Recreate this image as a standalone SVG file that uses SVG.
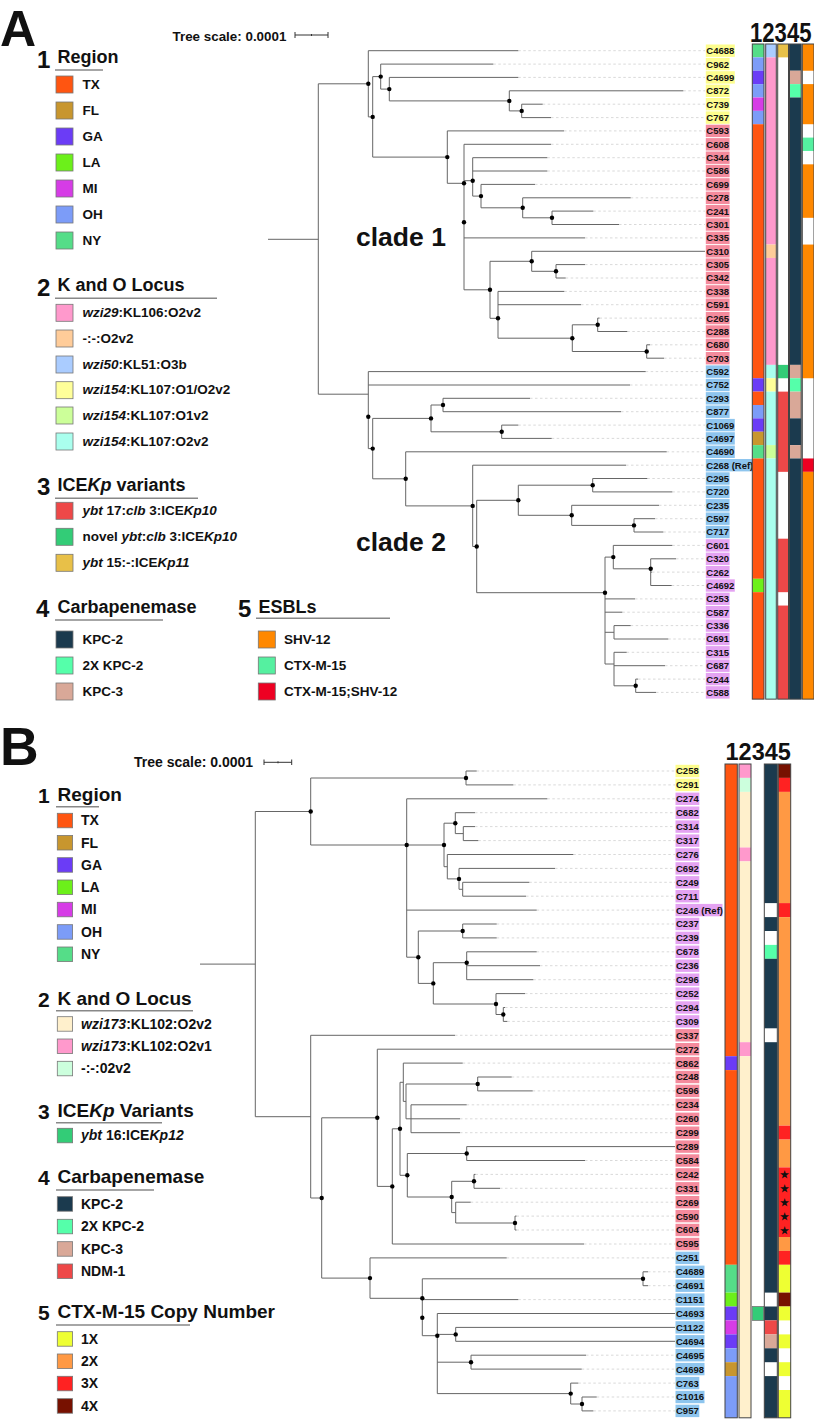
<svg xmlns="http://www.w3.org/2000/svg" width="814" height="1419" viewBox="0 0 814 1419">
<style>
text{font-family:"Liberation Sans",Arial,sans-serif;font-weight:bold;fill:#111}
.t{stroke:#666;stroke-width:1;fill:none}
.ld{stroke:#cfcfcf;stroke-width:0.8;stroke-dasharray:2.5 2.5;fill:none}
.dt{fill:#000}
.lb{font-size:9.5px}
.it{font-style:italic}
.ul{stroke:#888;stroke-width:1.5}
.sq{stroke:#777;stroke-width:0.8}
.co{fill:none;stroke:#444;stroke-width:1}
.TX{fill:#ff5511}.FL{fill:#c8962e}.GA{fill:#6b3cf6}.LA{fill:#6cf01a}.MI{fill:#d63ce6}.OH{fill:#7c9cf8}.NY{fill:#55dd88}
.K29{fill:#ff99cc}.Kpe{fill:#ffcc99}.K50{fill:#aaccff}.K154a{fill:#ffff99}.K154b{fill:#ccff99}.K154c{fill:#aaffee}
.Ired{fill:#ee4848}.Igr{fill:#33cc77}.Igo{fill:#e8c048}
.KP2{fill:#1b3a4e}.KP2x{fill:#55ffaa}.KP3{fill:#d9a898}.NDM{fill:#ee4848}
.SHV{fill:#ff8800}.CTX{fill:#55f0a0}.CS{fill:#ee0022}
.Bcr{fill:#fff0cc}.Bpk{fill:#ff99cc}.Bmt{fill:#ccffdd}
.X1{fill:#eeff33}.X2{fill:#ff9944}.X3{fill:#ff2222}.X4{fill:#771100}
.ly{fill:#fdfd8e}.lp{fill:#f48b9d}.lbb{fill:#8ec5ee}.lv{fill:#e4a3f2}
</style>

<!-- Panel A titles -->
<g id="panelA-title">
<text x="0" y="45.5" font-size="50">A</text>
<text x="172.5" y="40.5" font-size="13.4">Tree scale: 0.0001</text>
<path d="M295 35H328M295 32V38M328 32V38M311.5 34V36" stroke="#333" stroke-width="1" fill="none"/>
<text transform="translate(750 42) scale(0.79 1)" x="0" y="0" font-size="28">12345</text>
<text x="356" y="246" font-size="26.5">clade 1</text>
<text x="356" y="551" font-size="26.5">clade 2</text>
</g>

<!-- Legend A -->
<g id="legendA-region">
<text x="37" y="68.3" font-size="24">1</text>
<text x="57.5" y="63.3" font-size="18">Region</text>
<line class="ul" x1="55" y1="70" x2="103" y2="70"/>
<rect class="sq TX" x="56" y="76" width="17" height="17"/><text x="82.5" y="88.5" font-size="13.5">TX</text>
<rect class="sq FL" x="56" y="102" width="17" height="17"/><text x="82.5" y="114.5" font-size="13.5">FL</text>
<rect class="sq GA" x="56" y="128" width="17" height="17"/><text x="82.5" y="140.5" font-size="13.5">GA</text>
<rect class="sq LA" x="56" y="154" width="17" height="17"/><text x="82.5" y="166.5" font-size="13.5">LA</text>
<rect class="sq MI" x="56" y="180" width="17" height="17"/><text x="82.5" y="192.5" font-size="13.5">MI</text>
<rect class="sq OH" x="56" y="206" width="17" height="17"/><text x="82.5" y="218.5" font-size="13.5">OH</text>
<rect class="sq NY" x="56" y="232" width="17" height="17"/><text x="82.5" y="244.5" font-size="13.5">NY</text>
</g>
<g id="legendA-ko">
<text x="37" y="295.5" font-size="24">2</text>
<text x="57.5" y="290.7" font-size="18">K and O Locus</text>
<line class="ul" x1="55" y1="298.3" x2="217" y2="298.3"/>
<rect class="sq K29" x="56" y="304.3" width="17" height="17"/><text x="82.5" y="316.8" font-size="13.5"><tspan class="it">wzi29</tspan>:KL106:O2v2</text>
<rect class="sq Kpe" x="56" y="330" width="17" height="17"/><text x="82.5" y="342.5" font-size="13.5">-:-:O2v2</text>
<rect class="sq K50" x="56" y="356" width="17" height="17"/><text x="82.5" y="368.5" font-size="13.5"><tspan class="it">wzi50</tspan>:KL51:O3b</text>
<rect class="sq K154a" x="56" y="381.7" width="17" height="17"/><text x="82.5" y="394.2" font-size="13.5"><tspan class="it">wzi154</tspan>:KL107:O1/O2v2</text>
<rect class="sq K154b" x="56" y="407" width="17" height="17"/><text x="82.5" y="419.5" font-size="13.5"><tspan class="it">wzi154</tspan>:KL107:O1v2</text>
<rect class="sq K154c" x="56" y="433" width="17" height="17"/><text x="82.5" y="445.5" font-size="13.5"><tspan class="it">wzi154</tspan>:KL107:O2v2</text>
</g>
<g id="legendA-ice">
<text x="37" y="495.3" font-size="24">3</text>
<text x="57.5" y="490.7" font-size="18">ICE<tspan class="it">Kp</tspan> variants</text>
<line class="ul" x1="55" y1="498.3" x2="198" y2="498.3"/>
<rect class="sq Ired" x="56" y="502.3" width="17" height="17"/><text x="82.5" y="514.8" font-size="13.5"><tspan class="it">ybt</tspan> 17:<tspan class="it">clb</tspan> 3:ICE<tspan class="it">Kp10</tspan></text>
<rect class="sq Igr" x="56" y="528.3" width="17" height="17"/><text x="82.5" y="540.8" font-size="13.5">novel <tspan class="it">ybt</tspan>:<tspan class="it">clb</tspan> 3:ICE<tspan class="it">Kp10</tspan></text>
<rect class="sq Igo" x="56" y="554.3" width="17" height="17"/><text x="82.5" y="566.8" font-size="13.5"><tspan class="it">ybt</tspan> 15:-:ICE<tspan class="it">Kp11</tspan></text>
</g>
<g id="legendA-carb">
<text x="36" y="617" font-size="24">4</text>
<text x="57.5" y="612.7" font-size="18">Carbapenemase</text>
<line class="ul" x1="55" y1="620" x2="163" y2="620"/>
<rect class="sq KP2" x="56" y="631" width="17" height="17"/><text x="82.5" y="643.5" font-size="13.5">KPC-2</text>
<rect class="sq KP2x" x="56" y="657" width="17" height="17"/><text x="82.5" y="669.5" font-size="13.5">2X KPC-2</text>
<rect class="sq KP3" x="56" y="683" width="17" height="17"/><text x="82.5" y="695.5" font-size="13.5">KPC-3</text>
</g>
<g id="legendA-esbl">
<text x="238" y="617" font-size="24">5</text>
<text x="258.5" y="612.7" font-size="18">ESBLs</text>
<line class="ul" x1="256" y1="618.3" x2="390" y2="618.3"/>
<rect class="sq SHV" x="258.3" y="631" width="17" height="17"/><text x="284" y="643.5" font-size="13.5">SHV-12</text>
<rect class="sq CTX" x="258.3" y="657" width="17" height="17"/><text x="284" y="669.5" font-size="13.5">CTX-M-15</text>
<rect class="sq CS" x="258.3" y="683" width="17" height="17"/><text x="284" y="695.5" font-size="13.5">CTX-M-15;SHV-12</text>
</g>

<!-- Tree A connectors -->
<g id="treeA-connectors">
<path class="ld" d="M518.3 50.7H705M493.3 64.1H705M518.3 77.4H705M683.3 90.8H705M542.7 104.2H705M551 117.6H705M564 130.9H705M551 144.3H705M547.3 157.7H705M547.3 171H705M535 184.4H705M630.7 197.8H705M593.3 211.1H705M619 224.5H705M585 237.9H705M585 264.6H705M565.7 278H705M564.3 291.4H705M581 304.7H705M599.5 318.1H705M627.3 331.5H705M650 344.8H705M664 358.2H705M645.7 371.6H705M630 385H705M530 398.3H705M621 411.7H705M518.3 425.1H705M551.7 438.4H705M666.7 451.8H705M626 465.2H705M647.3 478.5H705M672.3 491.9H705M659 505.3H705M655 518.7H705M663.3 532H705M672.3 545.4H705M676 558.8H705M652 572.1H705M671.7 585.5H705M635 598.9H705M622.3 612.2H705M630.7 625.6H705M668.3 639H705M626.7 652.3H705M665 665.7H705M638 679.1H705M656 692.4H705"/>
<path class="t" d="M268 239.3H318.3M318.3 83.8V394.2M318.3 83.8H368.3M318.3 394.2H368.3
M368.3 50.7V116.9M368.3 50.7H518.3M368.3 116.9H372.7
M372.7 76.6V157.1M372.7 76.6H380.7M372.7 157.1H447.3
M380.7 64.1V89.1M380.7 64.1H493.3M380.7 89.1H389.3
M389.3 77.4V100.9M389.3 77.4H518.3M389.3 100.9H509.3
M509.3 90.8V110.9M509.3 90.8H683.3M509.3 110.9H521.7
M521.7 104.2V117.6M521.7 104.2H542.7M521.7 117.6H551
M447.3 130.9V183.3M447.3 130.9H564M447.3 183.3H464
M464 144.3V289.8M464 144.3H551M464 180.7H472.7M464 237.9H585M464 289.8H490
M472.7 157.7V196.1M472.7 157.7H547.3M472.7 171H547.3M472.7 196.1H481
M481 184.4V207.8M481 184.4H535M481 207.8H522.7
M522.7 197.8V217.8M522.7 197.8H630.7M522.7 217.8H552
M552 211.1V224.5M552 211.1H593.3M552 224.5H619
M490 261.3V318.3M490 261.3H531.7M490 318.3H498
M531.7 251.3V271.3M531.7 251.3H705M531.7 271.3H556
M556 264.6V278M556 264.6H585M556 278H565.7
M498 291.4V338.2M498 291.4H564.3M498 304.7H581M498 338.2H572.3
M572.3 324.8V351.5M572.3 324.8H597.7M572.3 351.5H646.7
M597.7 318.1V331.5M597.7 318.1H599.5M597.7 331.5H627.3
M646.7 344.8V358.2M646.7 344.8H650M646.7 358.2H664
M368.3 371.6V448.6M368.3 371.6H645.7M368.3 385H630M368.3 448.6H372.7
M372.7 418.4V478.8M372.7 418.4H431M372.7 478.8H405.7
M431 405V431.8M431 405H443M431 431.8H501.7
M443 398.3V411.7M443 398.3H530M443 411.7H621
M501.7 425.1V438.4M501.7 425.1H518.3M501.7 438.4H551.7
M405.7 451.8V505.9M405.7 451.8H666.7M405.7 505.9H472.7
M472.7 465.2V546.5M472.7 465.2H626M472.7 546.5H476.7
M476.7 500.3V592.7M476.7 500.3H518.3M476.7 592.7H605
M518.3 485.2V515.3M518.3 485.2H592.7M518.3 515.3H571.7
M592.7 478.5V491.9M592.7 478.5H647.3M592.7 491.9H672.3
M571.7 505.3V525.4M571.7 505.3H659M571.7 525.4H634
M634 518.7V532M634 518.7H655M634 532H663.3
M605 557.1V664M605 557.1H613.3M605 598.9H635M605 612.2H622.3M605 632.3H614M605 664H614
M613.3 545.4V568.8M613.3 545.4H672.3M613.3 568.8H650.7
M650.7 558.8V585.5M650.7 558.8H676M650.7 572.1H652M650.7 585.5H671.7
M614 625.6V639M614 625.6H630.7M614 639H668.3
M614 652.3V685.8M614 652.3H626.7M614 665.7H665M614 685.8H635.7
M635.7 679.1V692.4M635.7 679.1H638M635.7 692.4H656"/>
<g class="dt">
<circle cx="368.3" cy="83.8" r="2.2"/><circle cx="372.7" cy="116.9" r="2.2"/><circle cx="380.7" cy="76.6" r="2.2"/><circle cx="389.3" cy="89.1" r="2.2"/><circle cx="509.3" cy="100.9" r="2.2"/><circle cx="521.7" cy="110.9" r="2.2"/><circle cx="447.3" cy="157.1" r="2.2"/><circle cx="464" cy="183.3" r="2.2"/><circle cx="464" cy="222.3" r="2.2"/><circle cx="472.7" cy="180.7" r="2.2"/><circle cx="481" cy="196.1" r="2.2"/><circle cx="522.7" cy="207.8" r="2.2"/><circle cx="552" cy="217.8" r="2.2"/><circle cx="490" cy="289.8" r="2.2"/><circle cx="531.7" cy="261.3" r="2.2"/><circle cx="556" cy="271.3" r="2.2"/><circle cx="498" cy="318.3" r="2.2"/><circle cx="572.3" cy="338.2" r="2.2"/><circle cx="597.7" cy="324.8" r="2.2"/><circle cx="646.7" cy="351.5" r="2.2"/>
<circle cx="368.3" cy="416.8" r="2.2"/><circle cx="372.7" cy="448.6" r="2.2"/><circle cx="431" cy="418.4" r="2.2"/><circle cx="443" cy="405" r="2.2"/><circle cx="501.7" cy="431.8" r="2.2"/><circle cx="405.7" cy="478.8" r="2.2"/><circle cx="472.7" cy="505.9" r="2.2"/><circle cx="476.7" cy="546.5" r="2.2"/><circle cx="518.3" cy="500.3" r="2.2"/><circle cx="592.7" cy="485.2" r="2.2"/><circle cx="571.7" cy="515.3" r="2.2"/><circle cx="634" cy="525.4" r="2.2"/><circle cx="605" cy="592.7" r="2.2"/><circle cx="613.3" cy="557.1" r="2.2"/><circle cx="650.7" cy="568.8" r="2.2"/><circle cx="635.7" cy="685.8" r="2.2"/>
</g>
</g>

<!-- Leaf labels A -->
<g id="labelsA">
<rect class="ly" x="705.8" y="44.5" width="29" height="12.4"/><text class="lb" x="706.3" y="54.1">C4688</text>
<rect class="ly" x="705.8" y="57.9" width="23.8" height="12.4"/><text class="lb" x="706.3" y="67.5">C962</text>
<rect class="ly" x="705.8" y="71.2" width="29" height="12.4"/><text class="lb" x="706.3" y="80.8">C4699</text>
<rect class="ly" x="705.8" y="84.6" width="23.8" height="12.4"/><text class="lb" x="706.3" y="94.2">C872</text>
<rect class="ly" x="705.8" y="98" width="23.8" height="12.4"/><text class="lb" x="706.3" y="107.6">C739</text>
<rect class="ly" x="705.8" y="111.4" width="23.8" height="12.4"/><text class="lb" x="706.3" y="121">C767</text>
<rect class="lp" x="705.8" y="124.7" width="23.8" height="12.4"/><text class="lb" x="706.3" y="134.3">C593</text>
<rect class="lp" x="705.8" y="138.1" width="23.8" height="12.4"/><text class="lb" x="706.3" y="147.7">C608</text>
<rect class="lp" x="705.8" y="151.5" width="23.8" height="12.4"/><text class="lb" x="706.3" y="161.1">C344</text>
<rect class="lp" x="705.8" y="164.8" width="23.8" height="12.4"/><text class="lb" x="706.3" y="174.4">C586</text>
<rect class="lp" x="705.8" y="178.2" width="23.8" height="12.4"/><text class="lb" x="706.3" y="187.8">C699</text>
<rect class="lp" x="705.8" y="191.6" width="23.8" height="12.4"/><text class="lb" x="706.3" y="201.2">C278</text>
<rect class="lp" x="705.8" y="204.9" width="23.8" height="12.4"/><text class="lb" x="706.3" y="214.5">C241</text>
<rect class="lp" x="705.8" y="218.3" width="23.8" height="12.4"/><text class="lb" x="706.3" y="227.9">C301</text>
<rect class="lp" x="705.8" y="231.7" width="23.8" height="12.4"/><text class="lb" x="706.3" y="241.3">C335</text>
<rect class="lp" x="705.8" y="245.1" width="23.8" height="12.4"/><text class="lb" x="706.3" y="254.7">C310</text>
<rect class="lp" x="705.8" y="258.4" width="23.8" height="12.4"/><text class="lb" x="706.3" y="268">C305</text>
<rect class="lp" x="705.8" y="271.8" width="23.8" height="12.4"/><text class="lb" x="706.3" y="281.4">C342</text>
<rect class="lp" x="705.8" y="285.2" width="23.8" height="12.4"/><text class="lb" x="706.3" y="294.8">C338</text>
<rect class="lp" x="705.8" y="298.5" width="23.8" height="12.4"/><text class="lb" x="706.3" y="308.1">C591</text>
<rect class="lp" x="705.8" y="311.9" width="23.8" height="12.4"/><text class="lb" x="706.3" y="321.5">C265</text>
<rect class="lp" x="705.8" y="325.3" width="23.8" height="12.4"/><text class="lb" x="706.3" y="334.9">C288</text>
<rect class="lp" x="705.8" y="338.6" width="23.8" height="12.4"/><text class="lb" x="706.3" y="348.2">C680</text>
<rect class="lp" x="705.8" y="352" width="23.8" height="12.4"/><text class="lb" x="706.3" y="361.6">C703</text>
<rect class="lbb" x="705.8" y="365.4" width="23.8" height="12.4"/><text class="lb" x="706.3" y="375">C592</text>
<rect class="lbb" x="705.8" y="378.8" width="23.8" height="12.4"/><text class="lb" x="706.3" y="388.4">C752</text>
<rect class="lbb" x="705.8" y="392.1" width="23.8" height="12.4"/><text class="lb" x="706.3" y="401.7">C293</text>
<rect class="lbb" x="705.8" y="405.5" width="23.8" height="12.4"/><text class="lb" x="706.3" y="415.1">C877</text>
<rect class="lbb" x="705.8" y="418.9" width="29" height="12.4"/><text class="lb" x="706.3" y="428.5">C1069</text>
<rect class="lbb" x="705.8" y="432.2" width="29" height="12.4"/><text class="lb" x="706.3" y="441.8">C4697</text>
<rect class="lbb" x="705.8" y="445.6" width="29" height="12.4"/><text class="lb" x="706.3" y="455.2">C4690</text>
<rect class="lbb" x="705.8" y="459" width="47" height="12.4"/><text class="lb" x="706.3" y="468.6">C268 (Ref)</text>
<rect class="lbb" x="705.8" y="472.3" width="23.8" height="12.4"/><text class="lb" x="706.3" y="481.9">C295</text>
<rect class="lbb" x="705.8" y="485.7" width="23.8" height="12.4"/><text class="lb" x="706.3" y="495.3">C720</text>
<rect class="lbb" x="705.8" y="499.1" width="23.8" height="12.4"/><text class="lb" x="706.3" y="508.7">C235</text>
<rect class="lbb" x="705.8" y="512.5" width="23.8" height="12.4"/><text class="lb" x="706.3" y="522.1">C597</text>
<rect class="lbb" x="705.8" y="525.8" width="23.8" height="12.4"/><text class="lb" x="706.3" y="535.4">C717</text>
<rect class="lv" x="705.8" y="539.2" width="23.8" height="12.4"/><text class="lb" x="706.3" y="548.8">C601</text>
<rect class="lv" x="705.8" y="552.6" width="23.8" height="12.4"/><text class="lb" x="706.3" y="562.2">C320</text>
<rect class="lv" x="705.8" y="565.9" width="23.8" height="12.4"/><text class="lb" x="706.3" y="575.5">C262</text>
<rect class="lv" x="705.8" y="579.3" width="29" height="12.4"/><text class="lb" x="706.3" y="588.9">C4692</text>
<rect class="lv" x="705.8" y="592.7" width="23.8" height="12.4"/><text class="lb" x="706.3" y="602.3">C253</text>
<rect class="lv" x="705.8" y="606" width="23.8" height="12.4"/><text class="lb" x="706.3" y="615.6">C587</text>
<rect class="lv" x="705.8" y="619.4" width="23.8" height="12.4"/><text class="lb" x="706.3" y="629">C336</text>
<rect class="lv" x="705.8" y="632.8" width="23.8" height="12.4"/><text class="lb" x="706.3" y="642.4">C691</text>
<rect class="lv" x="705.8" y="646.1" width="23.8" height="12.4"/><text class="lb" x="706.3" y="655.7">C315</text>
<rect class="lv" x="705.8" y="659.5" width="23.8" height="12.4"/><text class="lb" x="706.3" y="669.1">C687</text>
<rect class="lv" x="705.8" y="672.9" width="23.8" height="12.4"/><text class="lb" x="706.3" y="682.5">C244</text>
<rect class="lv" x="705.8" y="686.2" width="23.8" height="12.4"/><text class="lb" x="706.3" y="695.8">C588</text>
</g>

<!-- Data columns A -->
<g id="stripsA">
<rect class="NY" x="752.3" y="44" width="11.7" height="13.37"/>
<rect class="OH" x="752.3" y="57.37" width="11.7" height="13.37"/>
<rect class="GA" x="752.3" y="70.74" width="11.7" height="13.37"/>
<rect class="OH" x="752.3" y="84.11" width="11.7" height="13.37"/>
<rect class="MI" x="752.3" y="97.48" width="11.7" height="13.37"/>
<rect class="OH" x="752.3" y="110.85" width="11.7" height="13.37"/>
<rect class="TX" x="752.3" y="124.22" width="11.7" height="254.03"/>
<rect class="GA" x="752.3" y="378.25" width="11.7" height="13.37"/>
<rect class="TX" x="752.3" y="391.62" width="11.7" height="13.37"/>
<rect class="OH" x="752.3" y="404.99" width="11.7" height="13.37"/>
<rect class="GA" x="752.3" y="418.36" width="11.7" height="13.37"/>
<rect class="FL" x="752.3" y="431.73" width="11.7" height="13.37"/>
<rect class="NY" x="752.3" y="445.1" width="11.7" height="13.37"/>
<rect class="TX" x="752.3" y="458.47" width="11.7" height="120.33"/>
<rect class="LA" x="752.3" y="578.8" width="11.7" height="13.37"/>
<rect class="TX" x="752.3" y="592.17" width="11.7" height="106.96"/>
<rect class="co" x="752.3" y="44" width="11.7" height="655.13"/>

<rect class="K50" x="765.7" y="44" width="10.6" height="13.37"/>
<rect class="K29" x="765.7" y="57.37" width="10.6" height="187.18"/>
<rect class="Kpe" x="765.7" y="244.55" width="10.6" height="13.37"/>
<rect class="K29" x="765.7" y="257.92" width="10.6" height="106.96"/>
<rect class="K154c" x="765.7" y="364.88" width="10.6" height="13.37"/>
<rect class="K154a" x="765.7" y="378.25" width="10.6" height="13.37"/>
<rect class="K154c" x="765.7" y="391.62" width="10.6" height="53.48"/>
<rect class="K154b" x="765.7" y="445.1" width="10.6" height="13.37"/>
<rect class="K154c" x="765.7" y="458.47" width="10.6" height="240.66"/>
<rect class="co" x="765.7" y="44" width="10.6" height="655.13"/>

<rect x="777.7" y="44" width="10.8" height="655.13" fill="#fff"/>
<rect class="Igo" x="777.7" y="44" width="10.8" height="13.37"/>
<rect class="Igr" x="777.7" y="364.88" width="10.8" height="13.37"/>
<rect class="Ired" x="777.7" y="391.62" width="10.8" height="80.22"/>
<rect class="Ired" x="777.7" y="538.69" width="10.8" height="53.48"/>
<rect class="Ired" x="777.7" y="605.54" width="10.8" height="93.59"/>
<rect class="co" x="777.7" y="44" width="10.8" height="655.13"/>

<rect class="KP2" x="789.5" y="44" width="11.7" height="26.74"/>
<rect class="KP3" x="789.5" y="70.74" width="11.7" height="13.37"/>
<rect class="KP2x" x="789.5" y="84.11" width="11.7" height="13.37"/>
<rect class="KP2" x="789.5" y="97.48" width="11.7" height="267.4"/>
<rect class="KP3" x="789.5" y="364.88" width="11.7" height="13.37"/>
<rect class="KP2x" x="789.5" y="378.25" width="11.7" height="13.37"/>
<rect class="KP3" x="789.5" y="391.62" width="11.7" height="26.74"/>
<rect class="KP2" x="789.5" y="418.36" width="11.7" height="26.74"/>
<rect class="KP3" x="789.5" y="445.1" width="11.7" height="13.37"/>
<rect class="KP2" x="789.5" y="458.47" width="11.7" height="240.66"/>
<rect class="co" x="789.5" y="44" width="11.7" height="655.13"/>

<rect x="802.3" y="44" width="11.7" height="655.13" fill="#fff"/>
<rect class="SHV" x="802.3" y="44" width="11.7" height="26.74"/>
<rect class="SHV" x="802.3" y="84.11" width="11.7" height="40.11"/>
<rect class="CTX" x="802.3" y="137.59" width="11.7" height="13.37"/>
<rect class="SHV" x="802.3" y="164.33" width="11.7" height="53.48"/>
<rect class="SHV" x="802.3" y="244.55" width="11.7" height="133.7"/>
<rect class="CS" x="802.3" y="458.47" width="11.7" height="13.37"/>
<rect class="SHV" x="802.3" y="471.84" width="11.7" height="227.29"/>
<rect class="co" x="802.3" y="44" width="11.7" height="655.13"/>
</g>

<!-- Panel B titles -->
<g id="panelB-title">
<text x="0" y="765" font-size="53.5">B</text>
<text x="134" y="766.7" font-size="14">Tree scale: 0.0001</text>
<path d="M264 762.3H291.7M264 759.5V765M291.7 759.5V765M278 761.3V763.3" stroke="#333" stroke-width="1" fill="none"/>
<text x="725.5" y="760" font-size="23.5">12345</text>
</g>

<!-- Legend B -->
<g id="legendB-region">
<text x="38" y="802.5" font-size="21">1</text>
<text x="57.5" y="800.5" font-size="19">Region</text>
<line class="ul" x1="56" y1="806.7" x2="99" y2="806.7"/>
<rect class="sq TX" x="57.3" y="813.3" width="15.3" height="14.5"/><text x="81" y="825.3" font-size="14">TX</text>
<rect class="sq FL" x="57.3" y="835.5" width="15.3" height="14.5"/><text x="81" y="847.5" font-size="14">FL</text>
<rect class="sq GA" x="57.3" y="857.7" width="15.3" height="14.5"/><text x="81" y="869.7" font-size="14">GA</text>
<rect class="sq LA" x="57.3" y="880" width="15.3" height="14.5"/><text x="81" y="892" font-size="14">LA</text>
<rect class="sq MI" x="57.3" y="902.3" width="15.3" height="14.5"/><text x="81" y="914.3" font-size="14">MI</text>
<rect class="sq OH" x="57.3" y="924.7" width="15.3" height="14.5"/><text x="81" y="936.7" font-size="14">OH</text>
<rect class="sq NY" x="57.3" y="947" width="15.3" height="14.5"/><text x="81" y="959" font-size="14">NY</text>
</g>
<g id="legendB-ko">
<text x="38" y="1007" font-size="21">2</text>
<text x="57.5" y="1005" font-size="19">K and O Locus</text>
<line class="ul" x1="56" y1="1010.7" x2="193" y2="1010.7"/>
<rect class="sq Bcr" x="57.3" y="1016.7" width="15.3" height="14.5"/><text x="81" y="1028.7" font-size="14"><tspan class="it">wzi173</tspan>:KL102:O2v2</text>
<rect class="sq Bpk" x="57.3" y="1039" width="15.3" height="14.5"/><text x="81" y="1051" font-size="14"><tspan class="it">wzi173</tspan>:KL102:O2v1</text>
<rect class="sq Bmt" x="57.3" y="1061.3" width="15.3" height="14.5"/><text x="81" y="1073.3" font-size="14">-:-:02v2</text>
</g>
<g id="legendB-ice">
<text x="38" y="1118.7" font-size="21">3</text>
<text x="57.5" y="1116.7" font-size="19">ICE<tspan class="it">Kp</tspan> Variants</text>
<line class="ul" x1="56" y1="1122.7" x2="162" y2="1122.7"/>
<rect class="sq Igr" x="57.3" y="1128.3" width="15.3" height="14.5"/><text x="81" y="1140.3" font-size="14"><tspan class="it">ybt</tspan> 16:ICE<tspan class="it">Kp12</tspan></text>
</g>
<g id="legendB-carb">
<text x="38" y="1185.3" font-size="21">4</text>
<text x="57.5" y="1183.3" font-size="19">Carbapenemase</text>
<line class="ul" x1="56" y1="1190" x2="154" y2="1190"/>
<rect class="sq KP2" x="57.3" y="1196.7" width="15.3" height="14.5"/><text x="81" y="1208.7" font-size="14">KPC-2</text>
<rect class="sq KP2x" x="57.3" y="1219.3" width="15.3" height="14.5"/><text x="81" y="1231.3" font-size="14">2X KPC-2</text>
<rect class="sq KP3" x="57.3" y="1241.7" width="15.3" height="14.5"/><text x="81" y="1253.7" font-size="14">KPC-3</text>
<rect class="sq NDM" x="57.3" y="1264" width="15.3" height="14.5"/><text x="81" y="1276" font-size="14">NDM-1</text>
</g>
<g id="legendB-ctx">
<text x="38" y="1320.3" font-size="21">5</text>
<text x="57.5" y="1318.3" font-size="19">CTX-M-15 Copy Number</text>
<line class="ul" x1="56" y1="1325" x2="190" y2="1325"/>
<rect class="sq X1" x="57.3" y="1331.7" width="15.3" height="14.5"/><text x="81" y="1343.7" font-size="14">1X</text>
<rect class="sq X2" x="57.3" y="1354" width="15.3" height="14.5"/><text x="81" y="1366" font-size="14">2X</text>
<rect class="sq X3" x="57.3" y="1376.3" width="15.3" height="14.5"/><text x="81" y="1388.3" font-size="14">3X</text>
<rect class="sq X4" x="57.3" y="1398.7" width="15.3" height="14.5"/><text x="81" y="1410.7" font-size="14">4X</text>
</g>

<!-- Tree B connectors -->
<g id="treeB-connectors">
<path class="ld" d="M476.7 771H675M513.3 784.9H675M547.3 798.8H675M475 812.7H675M475 826.6H675M478.3 840.6H675M573.3 854.5H675M555 868.4H675M529.3 882.3H675M526 896.2H675M536.7 910.1H675M496.7 924H675M496.7 937.9H675M536.7 951.8H675M540 965.7H675M533.3 979.7H675M525 993.6H675M505 1007.5H675M507.3 1021.4H675M455 1035.3H675M462.7 1063.1H675M511.7 1077H675M532.7 1090.9H675M466.7 1104.8H675M460 1118.8H675M460 1132.7H675M585 1160.5H675M475.5 1174.4H675M500 1188.3H675M470.7 1202.2H675M516.5 1216.1H675M516.5 1230H675M584 1244H675M506.7 1257.9H675M648 1271.8H675M648 1285.7H675M518.3 1299.6H675M586 1355.2H675M581.7 1369.1H675M578.3 1383.1H675M596.7 1397H675M593.3 1410.9H675"/>
<path class="t" d="M200 964.1H255.3M255.3 811.5V1116.7M255.3 811.5H310.7M255.3 1116.7H310.7
M310.7 778V845M310.7 778H466M310.7 845H406.7
M466 771V784.9M466 771H476.7M466 784.9H513.3
M406.7 798.8V957.2M406.7 798.8H547.3M406.7 845H444M406.7 910.1H536.7M406.7 957.2H418.3
M444 823.2V866.7M444 823.2H455.3M444 866.7H447.3
M455.3 812.7V833.6M455.3 812.7H475M455.3 833.6H463.3
M463.3 826.6V840.6M463.3 826.6H475M463.3 840.6H478.3
M447.3 854.5V878.9M447.3 854.5H573.3M447.3 878.9H459
M459 868.4V889.3M459 868.4H555M459 889.3H462.7
M462.7 882.3V896.2M462.7 882.3H529.3M462.7 896.2H526
M418.3 931V983.4M418.3 931H462.7M418.3 983.4H433.3
M462.7 924V937.9M462.7 924H496.7M462.7 937.9H496.7
M433.3 962.7V1004M433.3 962.7H466.7M433.3 1004H496
M466.7 951.8V979.7M466.7 951.8H536.7M466.7 965.7H540M466.7 979.7H533.3
M496 993.6V1014.5M496 993.6H525M496 1014.5H503.3
M503.3 1007.5V1021.4M503.3 1007.5H505M503.3 1021.4H507.3
M310.7 1035.3V1198M310.7 1035.3H455M310.7 1198H321.7
M321.7 1117.8V1278.1M321.7 1117.8H377.3M321.7 1278.1H370
M377.3 1049.2V1186.4M377.3 1049.2H675M377.3 1186.4H392.3
M392.3 1128.8V1244M392.3 1128.8H400M392.3 1244H584
M400 1082.3V1175.3M400 1082.3H403.3M400 1175.3H407.3
M403.3 1063.1V1101.4M403.3 1063.1H462.7M403.3 1101.4H406
M406 1084V1118.8M406 1084H477.7M406 1118.8H411
M477.7 1077V1090.9M477.7 1077H511.7M477.7 1090.9H532.7
M411 1104.8V1132.7M411 1104.8H466.7M411 1118.8H460M411 1132.7H460
M407.3 1153.5V1197M407.3 1153.5H466.7M407.3 1197H451.7
M466.7 1146.6V1160.5M466.7 1146.6H675M466.7 1160.5H585
M451.7 1181.3V1212.6M451.7 1181.3H474M451.7 1212.6H455.7
M474 1174.4V1188.3M474 1174.4H475.5M474 1188.3H500
M455.7 1202.2V1223M455.7 1202.2H470.7M455.7 1223H515
M515 1216.1V1230M515 1216.1H516.5M515 1230H516.5
M370 1257.9V1298.3M370 1257.9H506.7M370 1298.3H422.3
M422.3 1278.8V1335.7M422.3 1278.8H643M422.3 1299.6H518.3M422.3 1335.7H437.3
M643 1271.8V1285.7M643 1271.8H648M643 1285.7H648
M437.3 1313.5V1393.6M437.3 1313.5H675M437.3 1334.4H455.7M437.3 1362.2H471M437.3 1393.6H570.7
M455.7 1327.4V1341.3M455.7 1327.4H675M455.7 1341.3H675
M471 1355.2V1369.1M471 1355.2H586M471 1369.1H581.7
M570.7 1383.1V1404M570.7 1383.1H578.3M570.7 1404H582
M582 1397V1410.9M582 1397H596.7M582 1410.9H593.3"/>
<g class="dt">
<circle cx="310.7" cy="811.5" r="2.2"/><circle cx="466" cy="778" r="2.2"/><circle cx="406.7" cy="845" r="2.2"/><circle cx="444" cy="845" r="2.2"/><circle cx="455.3" cy="823.2" r="2.2"/><circle cx="459" cy="878.9" r="2.2"/><circle cx="462.7" cy="931" r="2.2"/><circle cx="418.3" cy="957.2" r="2.2"/><circle cx="466.7" cy="962.7" r="2.2"/><circle cx="433.3" cy="983.4" r="2.2"/><circle cx="496" cy="1004" r="2.2"/><circle cx="503.3" cy="1014.5" r="2.2"/><circle cx="477.7" cy="1084" r="2.2"/><circle cx="321.7" cy="1198" r="2.2"/><circle cx="377.3" cy="1117.8" r="2.2"/><circle cx="400" cy="1128.8" r="2.2"/><circle cx="392.3" cy="1186.4" r="2.2"/><circle cx="407.3" cy="1175.3" r="2.2"/><circle cx="466.7" cy="1153.5" r="2.2"/><circle cx="451.7" cy="1197" r="2.2"/><circle cx="474" cy="1181.3" r="2.2"/><circle cx="515" cy="1223" r="2.2"/><circle cx="370" cy="1278.1" r="2.2"/><circle cx="422.3" cy="1298.3" r="2.2"/><circle cx="422.3" cy="1317.7" r="2.2"/><circle cx="643" cy="1278.8" r="2.2"/><circle cx="437.3" cy="1335.7" r="2.2"/><circle cx="455.7" cy="1334.4" r="2.2"/><circle cx="471" cy="1362.2" r="2.2"/><circle cx="570.7" cy="1393.6" r="2.2"/><circle cx="582" cy="1404" r="2.2"/>
</g>
</g>

<!-- Leaf labels B -->
<g id="labelsB">
<rect class="ly" x="675.5" y="764.8" width="23.8" height="12.4"/><text class="lb" x="676" y="774.4">C258</text>
<rect class="ly" x="675.5" y="778.7" width="23.8" height="12.4"/><text class="lb" x="676" y="788.3">C291</text>
<rect class="lv" x="675.5" y="792.6" width="23.8" height="12.4"/><text class="lb" x="676" y="802.2">C274</text>
<rect class="lv" x="675.5" y="806.5" width="23.8" height="12.4"/><text class="lb" x="676" y="816.1">C682</text>
<rect class="lv" x="675.5" y="820.4" width="23.8" height="12.4"/><text class="lb" x="676" y="830">C314</text>
<rect class="lv" x="675.5" y="834.4" width="23.8" height="12.4"/><text class="lb" x="676" y="844">C317</text>
<rect class="lv" x="675.5" y="848.3" width="23.8" height="12.4"/><text class="lb" x="676" y="857.9">C276</text>
<rect class="lv" x="675.5" y="862.2" width="23.8" height="12.4"/><text class="lb" x="676" y="871.8">C692</text>
<rect class="lv" x="675.5" y="876.1" width="23.8" height="12.4"/><text class="lb" x="676" y="885.7">C249</text>
<rect class="lv" x="675.5" y="890" width="23.8" height="12.4"/><text class="lb" x="676" y="899.6">C711</text>
<rect class="lv" x="675.5" y="903.9" width="47" height="12.4"/><text class="lb" x="676" y="913.5">C246 (Ref)</text>
<rect class="lv" x="675.5" y="917.8" width="23.8" height="12.4"/><text class="lb" x="676" y="927.4">C237</text>
<rect class="lv" x="675.5" y="931.7" width="23.8" height="12.4"/><text class="lb" x="676" y="941.3">C239</text>
<rect class="lv" x="675.5" y="945.6" width="23.8" height="12.4"/><text class="lb" x="676" y="955.2">C678</text>
<rect class="lv" x="675.5" y="959.5" width="23.8" height="12.4"/><text class="lb" x="676" y="969.1">C236</text>
<rect class="lv" x="675.5" y="973.5" width="23.8" height="12.4"/><text class="lb" x="676" y="983.1">C296</text>
<rect class="lv" x="675.5" y="987.4" width="23.8" height="12.4"/><text class="lb" x="676" y="997">C252</text>
<rect class="lv" x="675.5" y="1001.3" width="23.8" height="12.4"/><text class="lb" x="676" y="1010.9">C294</text>
<rect class="lv" x="675.5" y="1015.2" width="23.8" height="12.4"/><text class="lb" x="676" y="1024.8">C309</text>
<rect class="lp" x="675.5" y="1029.1" width="23.8" height="12.4"/><text class="lb" x="676" y="1038.7">C337</text>
<rect class="lp" x="675.5" y="1043" width="23.8" height="12.4"/><text class="lb" x="676" y="1052.6">C272</text>
<rect class="lp" x="675.5" y="1056.9" width="23.8" height="12.4"/><text class="lb" x="676" y="1066.5">C862</text>
<rect class="lp" x="675.5" y="1070.8" width="23.8" height="12.4"/><text class="lb" x="676" y="1080.4">C248</text>
<rect class="lp" x="675.5" y="1084.7" width="23.8" height="12.4"/><text class="lb" x="676" y="1094.3">C596</text>
<rect class="lp" x="675.5" y="1098.6" width="23.8" height="12.4"/><text class="lb" x="676" y="1108.2">C234</text>
<rect class="lp" x="675.5" y="1112.6" width="23.8" height="12.4"/><text class="lb" x="676" y="1122.2">C260</text>
<rect class="lp" x="675.5" y="1126.5" width="23.8" height="12.4"/><text class="lb" x="676" y="1136.1">C299</text>
<rect class="lp" x="675.5" y="1140.4" width="23.8" height="12.4"/><text class="lb" x="676" y="1150">C289</text>
<rect class="lp" x="675.5" y="1154.3" width="23.8" height="12.4"/><text class="lb" x="676" y="1163.9">C584</text>
<rect class="lp" x="675.5" y="1168.2" width="23.8" height="12.4"/><text class="lb" x="676" y="1177.8">C242</text>
<rect class="lp" x="675.5" y="1182.1" width="23.8" height="12.4"/><text class="lb" x="676" y="1191.7">C331</text>
<rect class="lp" x="675.5" y="1196" width="23.8" height="12.4"/><text class="lb" x="676" y="1205.6">C269</text>
<rect class="lp" x="675.5" y="1209.9" width="23.8" height="12.4"/><text class="lb" x="676" y="1219.5">C590</text>
<rect class="lp" x="675.5" y="1223.8" width="23.8" height="12.4"/><text class="lb" x="676" y="1233.4">C604</text>
<rect class="lp" x="675.5" y="1237.8" width="23.8" height="12.4"/><text class="lb" x="676" y="1247.4">C595</text>
<rect class="lbb" x="675.5" y="1251.7" width="23.8" height="12.4"/><text class="lb" x="676" y="1261.3">C251</text>
<rect class="lbb" x="675.5" y="1265.6" width="29" height="12.4"/><text class="lb" x="676" y="1275.2">C4689</text>
<rect class="lbb" x="675.5" y="1279.5" width="29" height="12.4"/><text class="lb" x="676" y="1289.1">C4691</text>
<rect class="lbb" x="675.5" y="1293.4" width="29" height="12.4"/><text class="lb" x="676" y="1303">C1151</text>
<rect class="lbb" x="675.5" y="1307.3" width="29" height="12.4"/><text class="lb" x="676" y="1316.9">C4693</text>
<rect class="lbb" x="675.5" y="1321.2" width="29" height="12.4"/><text class="lb" x="676" y="1330.8">C1122</text>
<rect class="lbb" x="675.5" y="1335.1" width="29" height="12.4"/><text class="lb" x="676" y="1344.7">C4694</text>
<rect class="lbb" x="675.5" y="1349" width="29" height="12.4"/><text class="lb" x="676" y="1358.6">C4695</text>
<rect class="lbb" x="675.5" y="1362.9" width="29" height="12.4"/><text class="lb" x="676" y="1372.5">C4698</text>
<rect class="lbb" x="675.5" y="1376.9" width="23.8" height="12.4"/><text class="lb" x="676" y="1386.5">C763</text>
<rect class="lbb" x="675.5" y="1390.8" width="29" height="12.4"/><text class="lb" x="676" y="1400.4">C1016</text>
<rect class="lbb" x="675.5" y="1404.7" width="23.8" height="12.4"/><text class="lb" x="676" y="1414.3">C957</text>
</g>

<!-- Data columns B -->
<g id="stripsB">
<rect class="TX" x="725" y="764" width="12.3" height="292.2"/>
<rect class="GA" x="725" y="1056.2" width="12.3" height="13.9"/>
<rect class="TX" x="725" y="1070.1" width="12.3" height="194.7"/>
<rect class="NY" x="725" y="1264.8" width="12.3" height="27.8"/>
<rect class="LA" x="725" y="1292.6" width="12.3" height="13.9"/>
<rect class="GA" x="725" y="1306.5" width="12.3" height="13.9"/>
<rect class="MI" x="725" y="1320.4" width="12.3" height="14"/>
<rect class="GA" x="725" y="1334.4" width="12.3" height="13.9"/>
<rect class="OH" x="725" y="1348.3" width="12.3" height="13.9"/>
<rect class="FL" x="725" y="1362.2" width="12.3" height="13.9"/>
<rect class="OH" x="725" y="1376.1" width="12.3" height="41.7"/>
<rect class="co" x="725" y="764" width="12.3" height="653.8"/>

<rect class="Bpk" x="739" y="764" width="12" height="13.9"/>
<rect class="Bmt" x="739" y="777.9" width="12" height="14"/>
<rect class="Bcr" x="739" y="791.9" width="12" height="55.6"/>
<rect class="Bpk" x="739" y="847.5" width="12" height="13.9"/>
<rect class="Bcr" x="739" y="861.4" width="12" height="180.8"/>
<rect class="Bpk" x="739" y="1042.2" width="12" height="14"/>
<rect class="Bcr" x="739" y="1056.2" width="12" height="361.6"/>
<rect class="co" x="739" y="764" width="12" height="653.8"/>

<rect class="Igr sq" x="752.2" y="1306.5" width="11.5" height="13.9"/>

<rect x="764.3" y="764" width="13" height="653.8" fill="#fff"/>
<rect class="KP2" x="764.3" y="764" width="13" height="139.1"/>
<rect class="KP2" x="764.3" y="917.1" width="13" height="13.9"/>
<rect class="KP2x" x="764.3" y="944.9" width="13" height="13.9"/>
<rect class="KP2" x="764.3" y="958.8" width="13" height="69.5"/>
<rect class="KP2" x="764.3" y="1042.2" width="13" height="250.4"/>
<rect class="KP2" x="764.3" y="1306.5" width="13" height="13.9"/>
<rect class="NDM" x="764.3" y="1320.4" width="13" height="14"/>
<rect class="KP3" x="764.3" y="1334.4" width="13" height="13.9"/>
<rect class="KP2" x="764.3" y="1348.3" width="13" height="13.9"/>
<rect class="KP2" x="764.3" y="1376.1" width="13" height="41.7"/>
<rect class="co" x="764.3" y="764" width="13" height="653.8"/>

<rect x="778.3" y="764" width="12.4" height="653.8" fill="#fff"/>
<rect class="X4" x="778.3" y="764" width="12.4" height="13.9"/>
<rect class="X3" x="778.3" y="777.9" width="12.4" height="14"/>
<rect class="X2" x="778.3" y="791.9" width="12.4" height="111.2"/>
<rect class="X3" x="778.3" y="903.1" width="12.4" height="14"/>
<rect class="X2" x="778.3" y="917.1" width="12.4" height="208.6"/>
<rect class="X3" x="778.3" y="1125.7" width="12.4" height="13.9"/>
<rect class="X2" x="778.3" y="1139.6" width="12.4" height="27.8"/>
<rect class="X3" x="778.3" y="1167.4" width="12.4" height="69.6"/>
<rect class="X2" x="778.3" y="1237" width="12.4" height="13.9"/>
<rect class="X3" x="778.3" y="1250.9" width="12.4" height="13.9"/>
<rect class="X1" x="778.3" y="1264.8" width="12.4" height="27.8"/>
<rect class="X4" x="778.3" y="1292.6" width="12.4" height="13.9"/>
<rect class="X1" x="778.3" y="1306.5" width="12.4" height="13.9"/>
<rect class="X1" x="778.3" y="1334.4" width="12.4" height="13.9"/>
<rect class="X1" x="778.3" y="1362.2" width="12.4" height="13.9"/>
<rect class="X1" x="778.3" y="1390" width="12.4" height="27.8"/>
<rect class="co" x="778.3" y="764" width="12.4" height="653.8"/>
<g font-family="DejaVu Sans,sans-serif" font-size="10" text-anchor="middle">
<text x="784.5" y="1178">★</text><text x="784.5" y="1191.9">★</text><text x="784.5" y="1205.8">★</text><text x="784.5" y="1219.7">★</text><text x="784.5" y="1233.6">★</text>
</g>
</g>
</svg>
